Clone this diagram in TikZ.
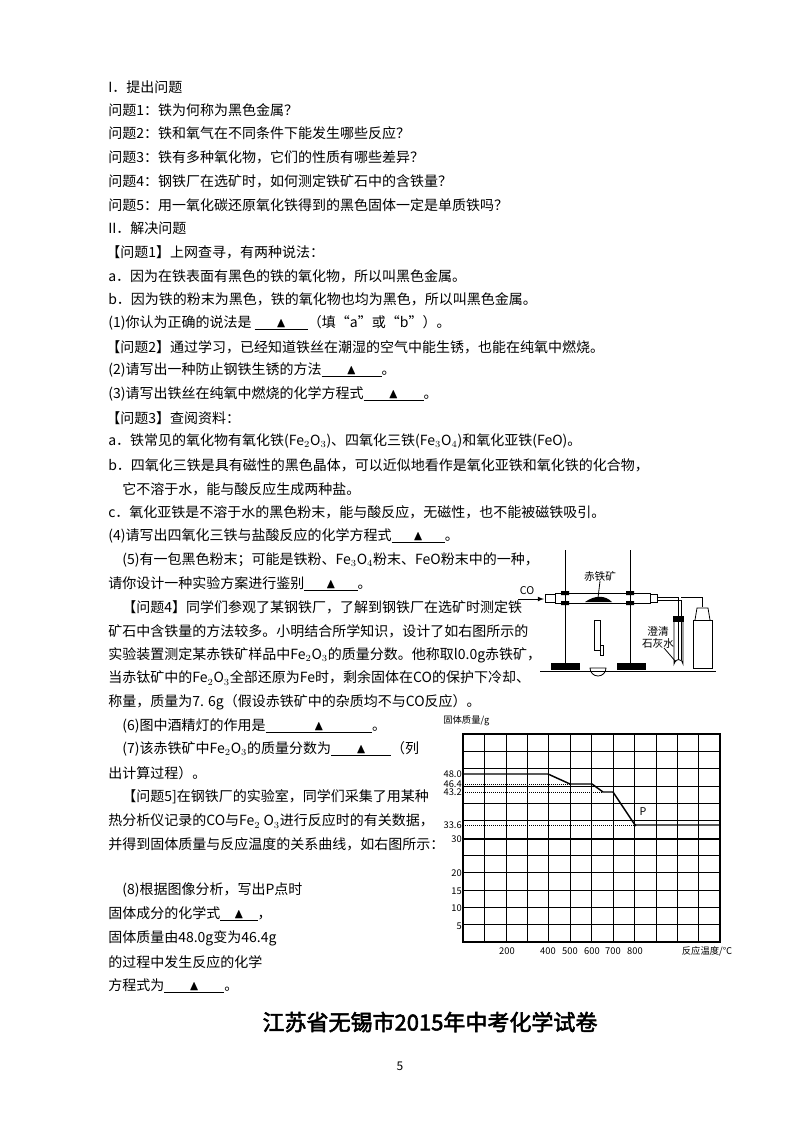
\documentclass[tikz,border=0pt]{standalone}
\usepackage{amssymb}
\usepackage{fontspec}
\setmainfont{Noto Sans CJK SC}[AutoFakeBold=2.5]
\newcommand\blk[1]{\underline{\makebox[#1]{$\blacktriangle$}}}
\begin{document}
\begin{tikzpicture}[x=0.75pt,y=-0.75pt,
  txt/.style={anchor=west,inner sep=0,font=\fontsize{10.5pt}{12pt}\selectfont},
  sm/.style={inner sep=0,font=\fontsize{7pt}{8pt}\selectfont},
  grid/.style={line width=0.4pt},
  curve/.style={line width=1.1pt},
  dots/.style={densely dotted,line width=0.5pt},
  app/.style={line width=0.6pt}]
\useasboundingbox (0,0) rectangle (800,1132);
\node[txt] (t1) at (108,87) {I．提出问题};
\node[txt] (t2) at (108,110) {问题1：铁为何称为黑色金属？};
\node[txt] (t3) at (108,133) {问题2：铁和氧气在不同条件下能发生哪些反应？};
\node[txt] (t4) at (108,157) {问题3：铁有多种氧化物，它们的性质有哪些差异？};
\node[txt] (t5) at (108,181) {问题4：钢铁厂在选矿时，如何测定铁矿石中的含铁量？};
\node[txt] (t6) at (108,205) {问题5：用一氧化碳还原氧化铁得到的黑色固体一定是单质铁吗？};
\node[txt] (t7) at (108,228) {II．解决问题};
\node[txt] (t8) at (106,252) {【问题1】上网查寻，有两种说法：};
\node[txt] (t9) at (108,276) {a．因为在铁表面有黑色的铁的氧化物，所以叫黑色金属。};
\node[txt] (t10) at (108,299) {b．因为铁的粉末为黑色，铁的氧化物也均为黑色，所以叫黑色金属。};
\node[txt] (t11) at (108,323) {(1)你认为正确的说法是 \blk{40pt}（填“a”或“b”）。};
\node[txt] (t12) at (106,347) {【问题2】通过学习，已经知道铁丝在潮湿的空气中能生锈，也能在纯氧中燃烧。};
\node[txt] (t13) at (108,370) {(2)请写出一种防止钢铁生锈的方法\blk{45pt}。};
\node[txt] (t14) at (108,394) {(3)请写出铁丝在纯氧中燃烧的化学方程式\blk{45pt}。};
\node[txt] (t15) at (106,418) {【问题3】查阅资料：};
\node[txt] (t16) at (108,441) {a．铁常见的氧化物有氧化铁(Fe$_2$O$_3$)、四氧化三铁(Fe$_3$O$_4$)和氧化亚铁(FeO)。};
\node[txt] (t17) at (108,465) {b．四氧化三铁是具有磁性的黑色晶体，可以近似地看作是氧化亚铁和氧化铁的化合物，};
\node[txt] (t18) at (122,489) {它不溶于水，能与酸反应生成两种盐。};
\node[txt] (t19) at (108,512) {c．氧化亚铁是不溶于水的黑色粉末，能与酸反应，无磁性，也不能被磁铁吸引。};
\node[txt] (t20) at (108,536) {(4)请写出四氧化三铁与盐酸反应的化学方程式\blk{40pt}。};
\node[txt] (t21) at (122,560) {(5)有一包黑色粉末；可能是铁粉、Fe$_3$O$_4$粉末、FeO粉末中的一种，};
\node[txt] (t22) at (108,584) {请你设计一种实验方案进行鉴别\blk{40pt}。};
\node[txt] (t23) at (122,607) {【问题4】同学们参观了某钢铁厂，了解到钢铁厂在选矿时测定铁};
\node[txt] (t24) at (108,631) {矿石中含铁量的方法较多。小明结合所学知识，设计了如右图所示的};
\node[txt] (t25) at (108,655) {实验装置测定某赤铁矿样品中Fe$_2$O$_3$的质量分数。他称取l0.0g赤铁矿，};
\node[txt] (t26) at (108,678) {当赤钛矿中的Fe$_2$O$_3$全部还原为Fe时，剩余固体在CO的保护下冷却、};
\node[txt] (t27) at (108,702) {称量，质量为7. 6g（假设赤铁矿中的杂质均不与CO反应）。};
\node[txt] (t28) at (122,726) {(6)图中酒精灯的作用是\blk{80pt}。};
\node[txt] (t29) at (122,749) {(7)该赤铁矿中Fe$_2$O$_3$的质量分数为\blk{45pt}（列};
\node[txt] (t30) at (108,773) {出计算过程）。};
\node[txt] (t31) at (122,797) {【问题5]在钢铁厂的实验室，同学们采集了用某种};
\node[txt] (t32) at (108,821) {热分析仪记录的CO与Fe$_2$ O$_3$进行反应时的有关数据，};
\node[txt] (t33) at (108,844) {并得到固体质量与反应温度的关系曲线，如右图所示：};
\node[txt] (t34) at (122,890) {(8)根据图像分析，写出P点时};
\node[txt] (t35) at (108,914) {固体成分的化学式\blk{28pt}，};
\node[txt] (t36) at (108,938) {固体质量由48.0g变为46.4g};
\node[txt] (t37) at (108,962) {的过程中发生反应的化学};
\node[txt] (t38) at (108,986) {方程式为\blk{45pt}。};
\node[inner sep=0,font=\fontsize{16.5pt}{18pt}\selectfont\bfseries] (title) at (430,1022) {江苏省无锡市2015年中考化学试卷};
\node[inner sep=0,font=\fontsize{9pt}{10pt}\selectfont] (pg) at (400,1066) {5};
% ---------- apparatus ----------
\draw[app] (565,550) -- (565,664) (630,550) -- (630,664);
\fill (551,663) rectangle (580,670);
\fill (617,663) rectangle (646,670);
\draw[app] (555,593) rectangle (650,603);
\draw[app] (545,594) rectangle (555,602);
\draw[app] (650,594) rectangle (657,602);
\fill (561,591) rectangle (569,595) (561,601) rectangle (569,605);
\fill (626,591) rectangle (634,595) (626,601) rectangle (634,605);
\fill (585,602) .. controls (595,595) and (605,595) .. (612,602) -- cycle;
\node[inner sep=0,font=\fontsize{8pt}{9pt}\selectfont] (ore) at (600,576) {赤铁矿};
\draw[app] (ore.south) -- (598,598);
\node[inner sep=0,font=\fontsize{8pt}{9pt}\selectfont] (co) at (527,591) {CO};
\coordinate (coin) at (518,599);
\draw[app,-latex] (coin) -- (544,599);
\draw[app] (594,620) rectangle (600,650);
\draw[app] (600,645) rectangle (603,655);
\draw[app] (590,668) arc (180:0:8) -- cycle;
\draw[app] (657,597) -- (678,597) -- (678,660) (657,600) -- (681,600) -- (681,660);
\draw[app] (674,618) -- (674,664) arc (180:360:4.5) -- (683,618);
\fill (673,616) rectangle (684,622);
\draw[app] (681,597) -- (702,597) -- (702,607);
\draw[app] (693,620) rectangle (712,668);
\draw[app] (695,620) -- (697,608) -- (708,608) -- (710,620);
\node[inner sep=0,font=\fontsize{8pt}{9pt}\selectfont,align=center] (lime) at (658,637) {澄清\\石灰水};
\draw[app] (664,648) -- (676,662);
\draw[app] (540,671) -- (716,671);
% ---------- graph ----------
\foreach \i in {0,...,12} \draw[grid] ({463+\i*21.42},734) -- ({463+\i*21.42},942);
\foreach \i in {0,...,12} \draw[grid] (463,{734+\i*17.33}) -- (720,{734+\i*17.33});
\draw[line width=0.8pt] (463,734) rectangle (720,942);
\draw[dots] (463,784) -- (570,784) (463,792) -- (603,792) (463,825) -- (635,825);
\draw[curve] (463,839) -- (720,839);
\draw[curve] (463,774) -- (548,774) -- (570,784) -- (592,784) -- (603,792) -- (613,792) -- (635,825) -- (720,825);
\fill (635,825) circle (1.5);
\node[inner sep=0,font=\fontsize{8pt}{9pt}\selectfont] (P) at (643,812) {P};
\node[sm,anchor=west] (ylab) at (443,721) {固体质量/g};
\foreach \v/\y in {48.0/774,46.4/784,43.2/792,33.6/825,30/839,20/873,15/891,10/908,5/926}
  \node[sm,anchor=east] at (462,\y) {\v};
\foreach \v/\x in {200/507,400/548,500/570,600/592,700/613,800/635}
  \node[sm] at (\x,951) {\v};
\node[sm] (xlab) at (707,951) {反应温度/℃};
\end{tikzpicture}
\end{document}
